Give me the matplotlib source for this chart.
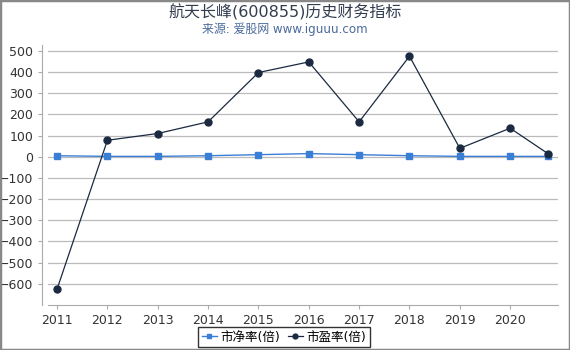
import matplotlib
matplotlib.use("Agg")
import matplotlib.pyplot as plt
from matplotlib.patches import Rectangle

plt.rcParams['font.family'] = ['DejaVu Sans', 'Noto Sans CJK SC']

years = [2011, 2012, 2013, 2014, 2015, 2016, 2017, 2018, 2019, 2020, 2020.75]
pb = [5, 2, 2, 5, 10, 15, 10, 5, 2, 2, 2]
pe = [-625, 78, 110, 165, 398, 448, 165, 475, 40, 135, 15]
xticks = [2011, 2012, 2013, 2014, 2015, 2016, 2017, 2018, 2019, 2020]
yticks = [500, 400, 300, 200, 100, 0, -100, -200, -300, -400, -500, -600]

fig = plt.figure(figsize=(5.7, 3.5), dpi=100)
ax = fig.add_axes([48/570, 1-305/350, (558-48)/570, (305-45)/350])

ax.plot(years, pb, color='#3a7fd5', marker='s', markersize=5, linewidth=1, label='市净率(倍)', zorder=3)
ax.plot(years, pe, color='#1b2a40', marker='o', markersize=5, linewidth=0.9, label='市盈率(倍)', zorder=4)

ax.set_xlim(2010.82, 2020.95)
ax.set_ylim(-700, 528)
ax.set_xticks(xticks)
ax.set_xticklabels([str(x) for x in xticks])
ax.set_yticks(yticks)
ax.grid(axis='y', color='#bbbbbb', linewidth=0.9)
ax.set_axisbelow(True)
for s in ['top', 'right']:
    ax.spines[s].set_visible(False)
ax.spines['left'].set_position(('outward', 4))
ax.spines['left'].set_color('#aaaaaa')
ax.spines['bottom'].set_color('#aaaaaa')
ax.tick_params(axis='both', colors='#aaaaaa', labelcolor='#333333', labelsize=9, length=3)

fig.text(0.5, 1-12/350, '航天长峰(600855)历史财务指标', ha='center', va='center', fontsize=11.5, color='#333d50')
fig.text(0.5, 1-29/350, '来源: 爱股网 www.iguuu.com', ha='center', va='center', fontsize=8.6, color='#4a6a9a')

leg = fig.legend(loc='center', bbox_to_anchor=(284/570, 1-337/350), ncol=2, fontsize=9,
                 frameon=True, fancybox=False, edgecolor='black', handlelength=1.2,
                 handletextpad=0.3, columnspacing=0.6, borderpad=0.3, markerscale=0.7)
leg.get_frame().set_linewidth(1)

fig.patches.append(Rectangle((0, 0), 1, 1, transform=fig.transFigure, fill=False,
                             edgecolor='#888888', linewidth=2.5))

fig.savefig('out.png', dpi=100)
